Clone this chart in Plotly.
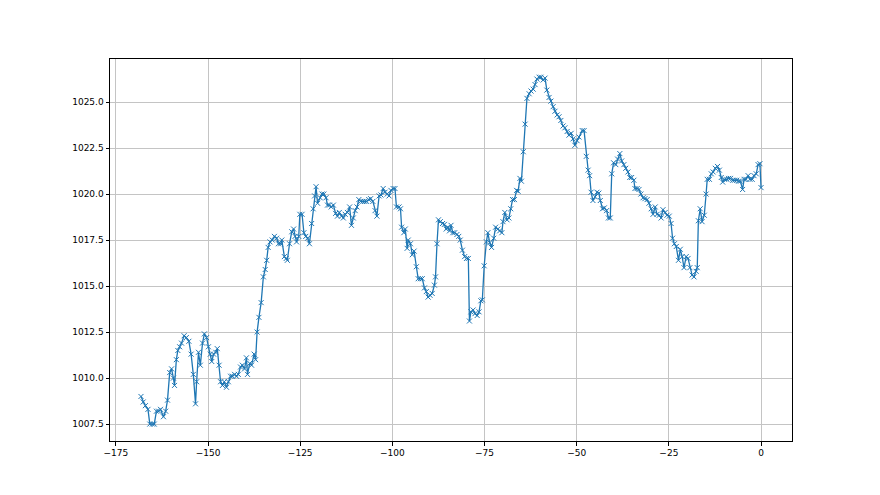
import plotly.graph_objects as go

hours = [
    -168.2, -167.6, -167.0, -166.3, -165.8, -165.1, -164.6, -164.0, -163.4, -162.9,
    -162.1, -161.5, -161.0, -160.4, -159.9, -159.4, -159.1, -158.6, -158.2, -157.7,
    -157.2, -156.5, -155.9, -155.2, -154.6, -154.0, -153.4, -153.1, -152.6, -152.1,
    -151.5, -151.0, -150.4, -149.9, -149.4, -149.0, -148.5, -147.9, -147.5, -147.0,
    -146.6, -146.1, -145.6, -145.0, -144.5, -143.9, -143.4, -142.8, -142.3, -141.8,
    -141.2, -140.7, -140.1, -139.6, -139.3, -138.7, -138.2, -137.5, -137.1, -136.7,
    -136.2, -135.6, -135.0, -134.5, -134.1, -133.7, -133.2, -132.6, -132.0, -131.4,
    -130.9, -130.3, -130.0, -129.3, -128.8, -128.5, -127.9, -127.3, -126.8, -126.4,
    -126.0, -125.4, -125.1, -124.5, -124.0, -123.5, -123.0, -122.5, -121.9, -121.5,
    -121.1, -120.7, -120.3, -119.6, -119.1, -118.6, -118.0, -117.6, -117.1, -116.6,
    -116.0, -115.4, -114.9, -114.4, -113.8, -113.3, -112.8, -112.2, -111.6, -111.1,
    -110.6, -110.1, -109.6, -109.1, -108.6, -108.0, -107.5, -107.0, -106.4, -105.9,
    -105.3, -104.7, -104.2, -103.6, -103.1, -102.5, -102.0, -101.4, -100.9, -100.4,
    -99.8, -99.3, -98.9, -98.2, -97.8, -97.5, -96.9, -96.5, -96.0, -95.7,
    -95.1, -94.6, -94.1, -93.5, -93.0, -92.4, -91.9, -91.3, -90.8, -90.3,
    -89.8, -89.2, -88.6, -88.3, -87.9, -87.5, -87.0, -86.4, -85.9, -85.4,
    -85.0, -84.5, -84.1, -83.6, -83.1, -82.5, -82.0, -81.6, -81.0, -80.4,
    -79.9, -79.4, -79.1, -78.7, -78.1, -77.6, -77.0, -76.5, -76.0, -75.6,
    -75.1, -74.5, -74.1, -73.6, -73.1, -72.5, -72.0, -71.4, -70.9, -70.3,
    -70.0, -69.5, -68.9, -68.4, -67.9, -67.4, -66.9, -66.3, -65.9, -65.4,
    -65.0, -64.5, -64.0, -63.5, -62.9, -62.4, -61.8, -61.3, -60.8, -60.2,
    -59.7, -59.1, -58.6, -58.1, -57.5, -57.0, -56.4, -55.9, -55.3, -54.8,
    -54.3, -53.7, -53.2, -52.6, -52.1, -51.5, -51.0, -50.5, -49.9, -49.4,
    -48.5, -48.0, -47.4, -46.9, -46.5, -46.1, -45.6, -45.0, -44.5, -44.0,
    -43.6, -43.0, -42.5, -41.9, -41.4, -40.9, -40.5, -40.0, -39.4, -38.9,
    -38.3, -37.8, -37.2, -36.7, -36.1, -35.6, -35.1, -34.5, -34.2, -33.6,
    -33.1, -32.6, -32.0, -31.5, -30.9, -30.4, -29.8, -29.3, -28.7, -28.2,
    -27.6, -27.1, -26.6, -26.0, -25.5, -24.9, -24.4, -24.0, -23.5, -23.0,
    -22.4, -21.9, -21.4, -20.9, -20.3, -19.8, -19.3, -18.7, -18.2, -17.6,
    -17.3, -17.0, -16.5, -16.0, -15.4, -14.9, -14.6, -14.0, -13.5, -13.0,
    -12.4, -11.8, -11.3, -10.8, -10.4, -9.9, -9.3, -8.8, -8.3, -7.7,
    -7.2, -6.6, -6.1, -5.6, -5.0, -4.6, -4.1, -3.5, -3.0, -2.4,
    -1.9, -1.3, -0.8, -0.3, 0.0,
]

pressure = [
    1009.0, 1008.7, 1008.5, 1008.3, 1007.5, 1007.5, 1007.5, 1008.2, 1008.2, 1008.3,
    1007.9, 1008.2, 1008.8, 1010.3, 1010.5, 1010.0, 1009.6, 1011.0, 1011.5, 1011.7,
    1011.9, 1012.3, 1012.2, 1012.0, 1011.3, 1010.2, 1008.6, 1009.8, 1011.4, 1010.7,
    1011.9, 1012.4, 1012.2, 1011.7, 1011.3, 1010.9, 1011.3, 1011.4, 1011.6, 1010.7,
    1009.8, 1009.6, 1009.8, 1009.5, 1009.8, 1010.1, 1010.1, 1010.2, 1010.1, 1010.2,
    1010.6, 1010.7, 1010.5, 1011.1, 1010.2, 1010.8, 1010.7, 1011.3, 1011.0, 1012.5,
    1013.3, 1014.1, 1015.5, 1015.9, 1016.4, 1017.1, 1017.4, 1017.5, 1017.7, 1017.6,
    1017.3, 1017.3, 1017.5, 1016.6, 1016.5, 1016.4, 1017.3, 1017.95, 1018.1, 1017.7,
    1017.4, 1017.7, 1018.9, 1018.9, 1017.9, 1017.7, 1017.6, 1017.3, 1018.4, 1019.2,
    1019.9, 1020.4, 1019.5, 1019.8, 1020.0, 1020.0, 1019.8, 1019.4, 1019.4, 1019.3,
    1019.4, 1018.95, 1018.8, 1019.0, 1018.8, 1018.7, 1018.9, 1019.0, 1019.3, 1018.3,
    1018.7, 1019.1, 1019.3, 1019.7, 1019.6, 1019.6, 1019.6, 1019.6, 1019.7, 1019.75,
    1019.6, 1019.1, 1018.8, 1019.9, 1019.95, 1020.3, 1020.1, 1020.0, 1019.9, 1020.2,
    1020.3, 1020.3, 1019.3, 1019.3, 1019.2, 1018.2, 1017.9, 1018.1, 1017.05, 1017.5,
    1017.3, 1016.7, 1016.9, 1016.05, 1015.4, 1015.4, 1015.4, 1014.9, 1014.7, 1014.4,
    1014.5, 1014.6, 1015.05, 1015.5, 1017.3, 1018.6, 1018.5, 1018.4, 1018.35, 1018.1,
    1018.2, 1018.0, 1018.3, 1017.9, 1017.9, 1017.8, 1017.7, 1017.5, 1016.95, 1016.6,
    1016.5, 1016.5, 1013.1, 1013.6, 1013.7, 1013.5, 1013.4, 1013.6, 1014.2, 1014.25,
    1016.1, 1017.4, 1017.9, 1017.35, 1017.1, 1017.6, 1018.2, 1018.1, 1018.0, 1017.9,
    1018.5, 1019.0, 1018.6, 1018.7, 1019.2, 1019.7, 1019.7, 1020.2, 1020.15, 1020.85,
    1020.7, 1022.3, 1023.8, 1025.2, 1025.45, 1025.6, 1025.7, 1025.95, 1026.25, 1026.35,
    1026.35, 1026.2, 1026.3, 1025.65, 1025.25, 1025.05, 1024.75, 1024.5, 1024.3, 1024.2,
    1024.0, 1023.7, 1023.6, 1023.4, 1023.2, 1023.3, 1023.0, 1022.65, 1022.9, 1023.1,
    1023.45, 1023.45, 1022.05, 1021.3, 1021.0, 1020.1, 1019.65, 1019.85, 1020.1, 1020.05,
    1019.65, 1019.2, 1019.25, 1019.1, 1018.7, 1018.7, 1021.1, 1021.7, 1021.6, 1021.9,
    1022.2, 1021.8, 1021.6, 1021.4, 1021.2, 1020.9, 1020.9, 1020.75, 1020.3, 1020.3,
    1020.25, 1020.0, 1019.8, 1019.75, 1019.7, 1019.5, 1019.2, 1018.9, 1019.3, 1018.9,
    1018.85, 1018.7, 1019.15, 1019.0, 1018.85, 1018.8, 1018.4, 1017.6, 1017.3, 1017.15,
    1016.4, 1017.0, 1016.6, 1016.0, 1016.6, 1016.5, 1016.0, 1015.6, 1015.5, 1015.8,
    1016.0, 1018.55, 1019.2, 1018.5, 1018.85, 1020.0, 1020.8, 1020.8, 1021.1, 1021.2,
    1021.4, 1021.5, 1021.3, 1020.9, 1020.65, 1020.8, 1020.8, 1020.85, 1020.85, 1020.75,
    1020.75, 1020.75, 1020.7, 1020.7, 1020.25, 1020.8, 1020.8, 1021.0, 1020.8, 1020.8,
    1021.0, 1021.1, 1021.6, 1021.65, 1020.35,
]

x_ticks = [-175, -150, -125, -100, -75, -50, -25, 0]
y_ticks = [1007.5, 1010.0, 1012.5, 1015.0, 1017.5, 1020.0, 1022.5, 1025.0]

fig = go.Figure()
fig.add_trace(go.Scatter(
    x=hours, y=pressure, mode="lines+markers",
    line=dict(color="#1f77b4", width=1.3),
    marker=dict(symbol="x-thin", size=5, color="#1f77b4",
                line=dict(color="#1f77b4", width=1)),
    showlegend=False,
))

axis_common = dict(
    showline=True, linecolor="black", linewidth=1, mirror=True,
    showgrid=True, gridcolor="#c4c4c4", gridwidth=0.8,
    ticks="outside", ticklen=3.5, tickwidth=0.8, tickcolor="black",
    zeroline=False,
    tickfont=dict(family="DejaVu Sans", size=9, color="black"),
)

fig.update_layout(
    width=880, height=495,
    margin=dict(l=102, r=96, t=51, b=62),
    paper_bgcolor="white", plot_bgcolor="white",
    xaxis=dict(range=[-176.6, 8.4], tickvals=x_ticks,
               ticktext=[str(v).replace("-", "\u2212") for v in x_ticks], **axis_common),
    yaxis=dict(range=[1006.58, 1027.34], tickvals=y_ticks,
               ticktext=[f"{v:.1f}" for v in y_ticks], **axis_common),
)

fig.write_html("out.html")
